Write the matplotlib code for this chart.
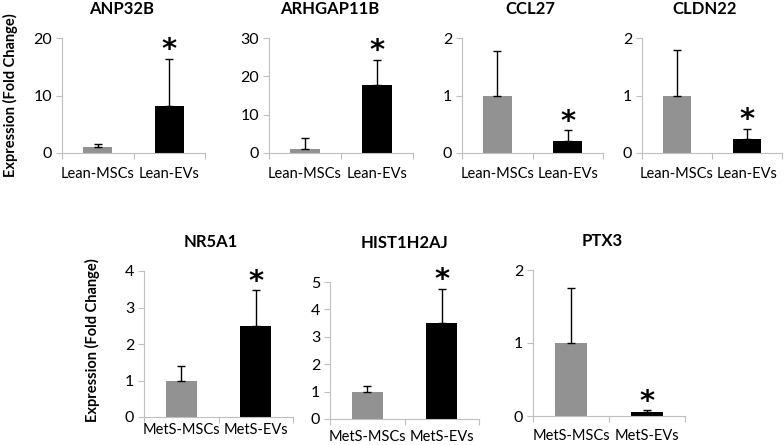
import matplotlib
matplotlib.use("Agg")
import matplotlib.pyplot as plt

plt.rcParams['font.family'] = ['Lato', 'DejaVu Sans']

# data
genes = ['ANP32B', 'ARHGAP11B', 'CCL27', 'CLDN22', 'NR5A1', 'HIST1H2AJ', 'PTX3']
groups_top = ['Lean-MSCs', 'Lean-EVs']
groups_bottom = ['MetS-MSCs', 'MetS-EVs']
msc_vals = [1, 1, 1, 1, 1, 1, 1]
msc_err = [0.5, 3.0, 0.78, 0.8, 0.4, 0.22, 0.76]
ev_vals = [8.2, 17.8, 0.21, 0.24, 2.48, 3.5, 0.06]
ev_err = [8.2, 6.5, 0.19, 0.18, 1.0, 1.25, 0.02]
ymax = [20, 30, 2, 2, 4, 5, 2]
ystep = [10, 10, 1, 1, 1, 1, 1]

# axes boxes in pixels: (x_left, x_right, y_top, y_zero)
boxes = [(62, 205, 38, 153), (269, 413, 38, 153), (462, 603, 38, 153),
         (642, 782, 38, 153), (144, 293, 271, 417), (330, 479, 282, 419),
         (533, 685, 270, 416)]
# title centres in pixels
title_pos = [(122, 9), (330, 9), (530, 9), (705, 9), (211, 242), (405, 243), (602, 241)]
label_pad = [10, 10, 10, 10, 4, 8, 9]

W, H = 784, 445
fig = plt.figure(figsize=(W / 100, H / 100), dpi=100)
axcol = '#bfbfbf'

for i, g in enumerate(genes):
    x0, x1, yt, yz = boxes[i]
    ax = fig.add_axes([x0 / W, (H - yz) / H, (x1 - x0) / W, (yz - yt) / H])
    labels = groups_top if i < 4 else groups_bottom
    vals = [msc_vals[i], ev_vals[i]]
    errs = [[0, 0], [msc_err[i], ev_err[i]]]
    ax.bar([0.5, 1.5], vals, width=0.41, color=['#929292', 'black'],
           yerr=errs, capsize=3, error_kw=dict(elinewidth=1, capthick=1, ecolor='black'))
    ax.annotate('*', (1.5, ev_vals[i] + ev_err[i]), xytext=(0, -4), textcoords='offset points',
                ha='center', va='bottom', fontsize=21, fontweight='bold', family='DejaVu Sans')
    ax.set_xlim(0, 2)
    ax.set_ylim(0, ymax[i])
    ax.set_yticks(list(range(0, ymax[i] + 1, ystep[i])))
    ax.set_xticks([0, 1, 2])
    ax.set_xticklabels([])
    ax.set_xticks([0.5, 1.5], minor=True)
    ax.set_xticklabels(labels, minor=True, fontsize=10.5)
    ax.tick_params(axis='x', which='minor', length=0, pad=label_pad[i])
    ax.tick_params(axis='x', which='major', length=4, color=axcol)
    ax.tick_params(axis='y', length=4, color=axcol, labelsize=11.5, pad=3)
    for s in ['top', 'right']:
        ax.spines[s].set_visible(False)
    for s in ['left', 'bottom']:
        ax.spines[s].set_color(axcol)
    tx, ty = title_pos[i]
    fig.text(tx / W, 1 - ty / H, g, ha='center', va='center', fontsize=12, fontweight='bold')

fig.text(10 / W, 1 - 95 / H, 'Expression (Fold Change)', rotation=90,
         ha='center', va='center', fontsize=10.5, fontweight='bold')
fig.text(92 / W, 1 - 340 / H, 'Expression (Fold Change)', rotation=90,
         ha='center', va='center', fontsize=10.5, fontweight='bold')

fig.savefig('out.png', dpi=100)
